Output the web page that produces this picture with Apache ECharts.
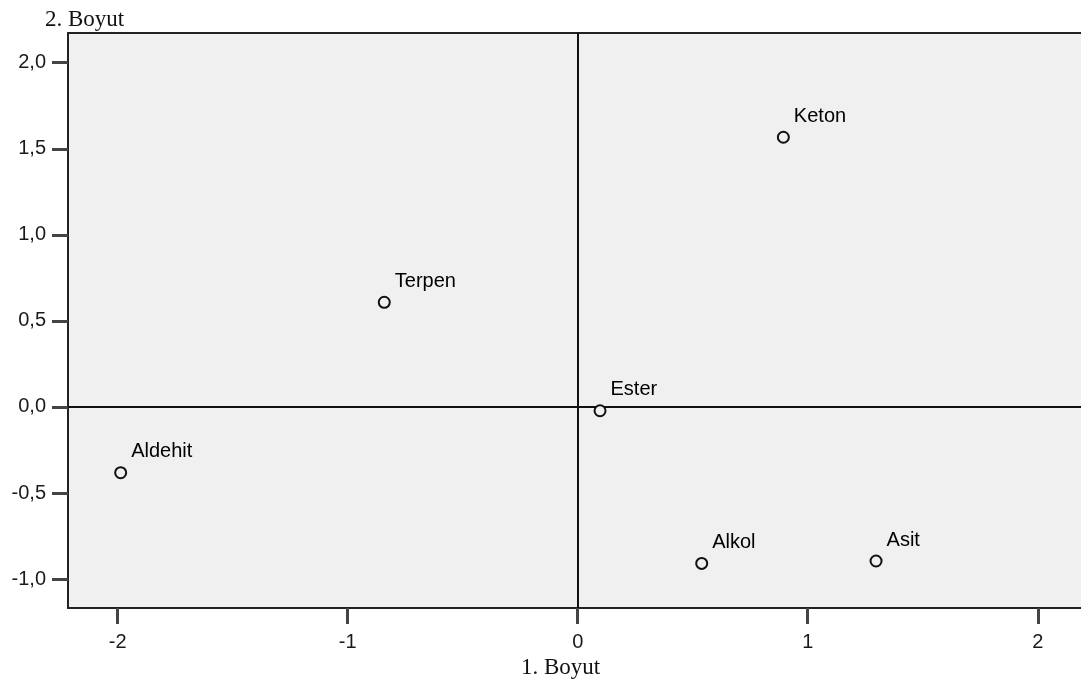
<!DOCTYPE html>
<html>
<head>
<meta charset="utf-8">
<script src="https://cdn.jsdelivr.net/npm/echarts@6/dist/echarts.min.js"></script>
<style>html,body{margin:0;padding:0;background:#fff}#c{width:1081px;height:689px}</style>
</head>
<body>
<div id="c"></div>
<script>
var names = ['Keton', 'Terpen', 'Ester', 'Aldehit', 'Alkol', 'Asit'];
var dim1 = [0.894, -0.841, 0.097, -1.987, 0.539, 1.297];
var dim2 = [1.567, 0.608, -0.022, -0.382, -0.909, -0.895];
var xTicks = [-2, -1, 0, 1, 2];
var yTicks = [-1.0, -0.5, 0.0, 0.5, 1.0, 1.5, 2.0];
var xTitle = '1. Boyut';
var yTitle = '2. Boyut';

var pts = names.map(function (n, i) { return { name: n, value: [dim1[i], dim2[i]] }; });
var lab = { color: '#1a1a1a', fontSize: 20, fontFamily: 'Liberation Sans, Arial, sans-serif' };
var chart = echarts.init(document.getElementById('c'));
chart.setOption({
  animation: false,
  backgroundColor: '#fff',
  grid: { left: 68, top: 33, right: 0, bottom: 81, show: true, backgroundColor: '#f0f0f0', borderWidth: 0 },
  xAxis: [{
    type: 'value', min: -2.216, max: 2.188,
    splitLine: { show: false },
    axisLine: { show: true, onZero: false, lineStyle: { color: '#222', width: 2 } },
    axisTick: { show: true, length: 16, customValues: xTicks, lineStyle: { color: '#444', width: 3 } },
    axisLabel: Object.assign({ customValues: xTicks, margin: 24 }, lab)
  }, {
    type: 'value', position: 'top', min: -2.216, max: 2.188,
    splitLine: { show: false },
    axisLine: { show: true, onZero: false, lineStyle: { color: '#222', width: 2 } },
    axisTick: { show: false }, axisLabel: { show: false }
  }],
  yAxis: {
    type: 'value', min: -1.168, max: 2.1726,
    splitLine: { show: false },
    axisLine: { show: true, onZero: false, lineStyle: { color: '#222', width: 2 } },
    axisTick: { show: true, length: 16, customValues: yTicks, lineStyle: { color: '#444', width: 3 } },
    axisLabel: Object.assign({ customValues: yTicks, margin: 22,
      formatter: function (v) { return v.toFixed(1).replace('.', ','); } }, lab)
  },
  graphic: [
    { type: 'text', left: 45, top: 8, style: { text: yTitle, fill: '#111', font: '23px "Liberation Serif", "Times New Roman", serif' } },
    { type: 'text', left: 521, top: 656, style: { text: xTitle, fill: '#111', font: '23px "Liberation Serif", "Times New Roman", serif' } }
  ],
  series: [{
    type: 'scatter',
    data: pts,
    symbol: 'circle',
    symbolSize: 11,
    itemStyle: { color: '#f0f0f0', borderColor: '#111', borderWidth: 2, opacity: 1 },
    label: Object.assign({ show: true, position: 'right', distance: 4, offset: [0, -21], formatter: '{b}' }, lab, { color: '#000' }),
    markLine: {
      silent: true, symbol: 'none', label: { show: false },
      lineStyle: { color: '#111', width: 2, type: 'solid' },
      data: [{ xAxis: 0 }, { yAxis: 0 }]
    },
    z: 5
  }]
});
</script>
</body>
</html>
